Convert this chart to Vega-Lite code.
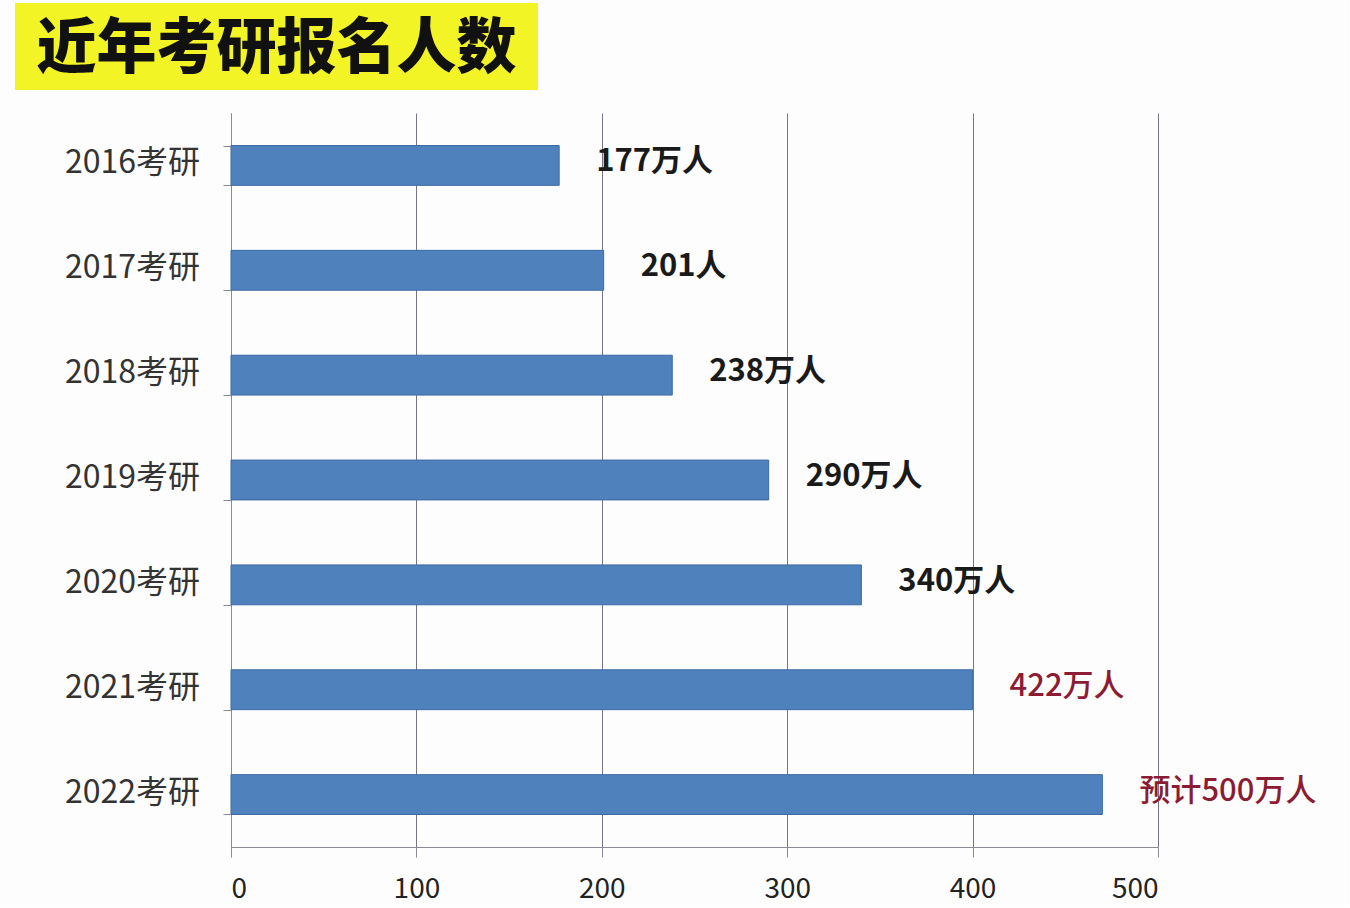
{
  "$schema": "https://vega.github.io/schema/vega-lite/v6.json",
  "background": "#fdfdfd",
  "padding": {"left": 15, "top": 3, "right": 32, "bottom": 2},
  "spacing": 23,
  "datasets": {
    "heading": [{"title": "近年考研报名人数"}],
    "enrol": [
      {"year": "2016考研", "value": 177, "label": "177万人", "forecast": false},
      {"year": "2017考研", "value": 201, "label": "201人", "forecast": false},
      {"year": "2018考研", "value": 238, "label": "238万人", "forecast": false},
      {"year": "2019考研", "value": 290, "label": "290万人", "forecast": false},
      {"year": "2020考研", "value": 340, "label": "340万人", "forecast": false},
      {"year": "2021考研", "value": 400, "label": "422万人", "forecast": true},
      {"year": "2022考研", "value": 470, "label": "预计500万人", "forecast": true}
    ]
  },
  "vconcat": [
    {
      "width": 523,
      "height": 87,
      "view": {"fill": "#f2f425", "stroke": null},
      "data": {"name": "heading"},
      "mark": {"type": "text", "font": "Noto Sans CJK SC", "fontSize": 60, "fontWeight": 900, "color": "#111", "baseline": "middle", "dy": 3},
      "encoding": {"text": {"field": "title"}}
    },
    {
      "spacing": 22,
      "hconcat": [
        {
          "width": 185,
          "height": 734,
          "view": {"stroke": null},
          "data": {"name": "enrol"},
          "mark": {"type": "text", "align": "right", "baseline": "middle", "dy": -2, "font": "Noto Sans CJK SC", "fontSize": 32, "color": "#333"},
          "encoding": {
            "y": {"field": "year", "type": "nominal", "sort": null, "scale": {"paddingInner": 0.62, "paddingOuter": 0.31}, "axis": null},
            "x": {"value": "width"},
            "text": {"field": "year"}
          }
        },
        {
          "width": 927,
          "height": 734,
          "view": {"stroke": null},
          "data": {"name": "enrol"},
          "encoding": {
            "y": {
              "field": "year", "type": "nominal", "sort": null,
              "scale": {"paddingInner": 0.62, "paddingOuter": 0.31},
              "axis": {
                "title": null, "grid": false, "labels": false, "tickBand": "extent", "tickSize": 8,
                "domainColor": "#8a8a96", "tickColor": "#8a8a96"
              }
            },
            "x": {
              "field": "value", "type": "quantitative",
              "scale": {"domain": [0, 500], "nice": false},
              "axis": {
                "title": null, "values": [0, 100, 200, 300, 400, 500], "grid": true,
                "gridColor": "#75758a", "domainColor": "#8a8a96", "tickColor": "#8a8a96",
                "tickSize": 10, "labelFontSize": 28, "labelColor": "#222", "labelPadding": 18,
                "labelFont": "Noto Sans CJK SC"
              }
            }
          },
          "layer": [
            {"mark": {"type": "bar", "color": "#4f81bd", "stroke": "#3d6aa3", "strokeWidth": 1}},
            {
              "transform": [{"filter": "!datum.forecast"}],
              "mark": {"type": "text", "align": "left", "baseline": "middle", "dx": 37, "dy": -3, "font": "Noto Sans CJK SC", "fontSize": 31, "fontWeight": "bold", "color": "#1a1a1a"},
              "encoding": {"text": {"field": "label"}}
            },
            {
              "transform": [{"filter": "datum.forecast"}],
              "mark": {"type": "text", "align": "left", "baseline": "middle", "dx": 37, "dy": -3, "font": "Noto Sans CJK SC", "fontSize": 31, "fontWeight": 500, "color": "#8c1c34"},
              "encoding": {"text": {"field": "label"}}
            }
          ]
        }
      ]
    }
  ]
}
